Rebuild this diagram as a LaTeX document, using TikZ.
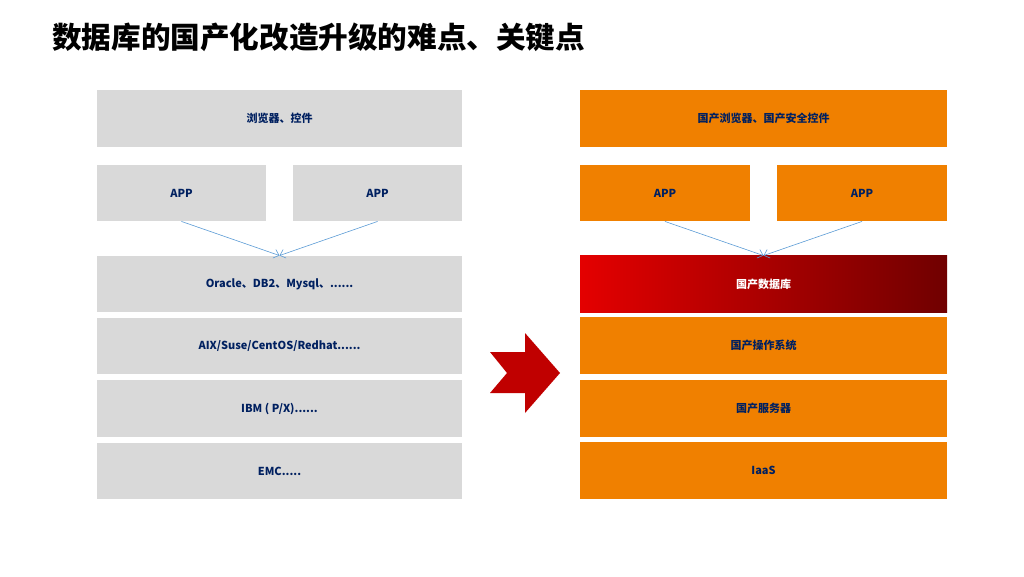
\documentclass[tikz,border=0pt]{standalone}
\usepackage{fontspec}
\newfontfamily\cjk{Noto Sans CJK SC}
\usetikzlibrary{arrows.meta}
\definecolor{boxgray}{RGB}{217,217,217}
\definecolor{boxorange}{RGB}{240,128,0}
\definecolor{navy}{RGB}{0,32,96}
\definecolor{linkblue}{RGB}{91,155,213}
\definecolor{redL}{RGB}{228,0,0}
\definecolor{redR}{RGB}{112,0,0}
\definecolor{chev}{RGB}{192,0,0}
\tikzset{
  layer/.style={minimum height=56.5pt, inner sep=0pt, font=\cjk\bfseries\fontsize{11}{13}\selectfont, text=navy},
  graybox/.style={layer, fill=boxgray},
  orangebox/.style={layer, fill=boxorange},
  link/.style={linkblue, line width=0.6pt, -{Straight Barb[length=5pt,width=9pt]}},
}
\begin{document}
\begin{tikzpicture}[x=1pt,y=-1pt]
\useasboundingbox (0,0) rectangle (1024,576);
\node[anchor=west, inner sep=0pt, font=\cjk\bfseries\fontsize{29.6}{34}\selectfont] (title) at (52,37) {数据库的国产化改造升级的难点、关键点};
% left column
\node[graybox, minimum width=365pt] (lbrowser) at (279.5,118.5) {浏览器、控件};
\node[graybox, minimum width=169pt] (lappL) at (181.5,193) {APP};
\node[graybox, minimum width=169pt] (lappR) at (377.5,193) {APP};
\node[graybox, minimum width=365pt] (ldb) at (279.5,284) {Oracle、DB2、Mysql、......};
\node[graybox, minimum width=365pt] (los) at (279.5,346) {AIX/Suse/CentOS/Redhat......};
\node[graybox, minimum width=365pt] (lsrv) at (279.5,408.5) {IBM ( P/X)......};
\node[graybox, minimum width=365pt] (lsto) at (279.5,471) {EMC.....};
\draw[link] (lappL.south) -- (ldb.north);
\draw[link] (lappR.south) -- (ldb.north);
% arrow
\fill[chev] (490,352) -- (525,352) -- (525,333) -- (560,373) -- (525,413) -- (525,393) -- (490,393) -- (507,373) -- cycle;
% right column
\node[orangebox, minimum width=367pt] (rbrowser) at (763.5,118.5) {国产浏览器、国产安全控件};
\node[orangebox, minimum width=170pt] (rappL) at (665,193) {APP};
\node[orangebox, minimum width=170pt] (rappR) at (862,193) {APP};
\node[layer, minimum width=367pt, left color=redL, right color=redR, text=white] (rdb) at (763.5,284) {国产数据库};
\node[orangebox, minimum width=367pt] (ros) at (763.5,345.5) {国产操作系统};
\node[orangebox, minimum width=367pt] (rsrv) at (763.5,408.5) {国产服务器};
\node[orangebox, minimum width=367pt] (rsto) at (763.5,470.5) {IaaS};
\draw[link] (rappL.south) -- (rdb.north);
\draw[link] (rappR.south) -- (rdb.north);
\end{tikzpicture}
\end{document}
